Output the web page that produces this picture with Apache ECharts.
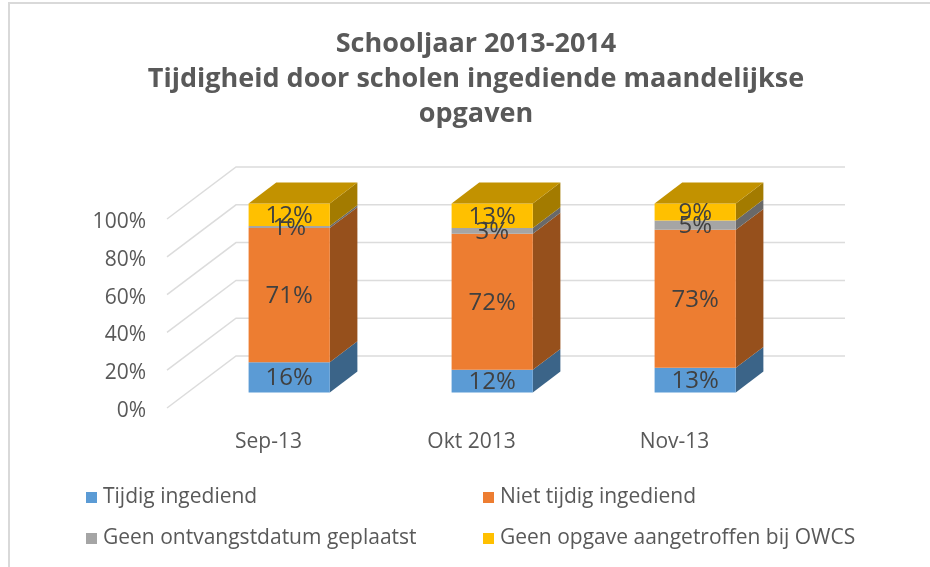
<!DOCTYPE html>
<html>
<head>
<meta charset="utf-8">
<style>html,body{margin:0;padding:0;background:#fff}#main{width:930px;height:567px}</style>
<script src="https://cdn.jsdelivr.net/npm/echarts@6/dist/echarts.min.js"></script>
</head>
<body>
<div id="main"></div>
<script>
var categories = ['Sep-13', 'Okt 2013', 'Nov-13'];
var tijdig = [16, 12, 13];
var nietTijdig = [71, 72, 73];
var geenDatum = [1, 3, 5];
var geenOpgave = [12, 13, 9];
var ticks = [0, 20, 40, 60, 80, 100];

var names = ['Tijdig ingediend', 'Niet tijdig ingediend', 'Geen ontvangstdatum geplaatst', 'Geen opgave aangetroffen bij OWCS'];
var values = [tijdig, nietTijdig, geenDatum, geenOpgave];
var front = ['#5b9bd5', '#ed7d31', '#a5a5a5', '#ffc000'];
var side = ['#3b6488', '#96501c', '#696969', '#a37b00'];
var topColor = '#c29200';
var font = '"Open Sans"';

// fake 3d: depth z 0..1 shifts a point up and right
var depthX = 69, depthY = -52;
var zFront = 0.3, zBack = 0.7;

function shift(p, z) {
  return [p[0] + depthX * z, p[1] + depthY * z];
}

function renderWall(params, api) {
  var cs = params.coordSys;
  var y = api.coord([0, api.value(0)])[1];
  var a = [cs.x, y];
  var b = shift(a, 1);
  var c = [cs.x + cs.width + depthX, b[1]];
  return {
    type: 'polyline',
    shape: { points: [a, b, c] },
    style: { stroke: '#dcdcdc', lineWidth: 1.5, fill: null }
  };
}

function makeRender(idx) {
  return function (params, api) {
    var cat = api.value(0);
    var from = api.value(1);
    var to = api.value(2);
    var half = api.size([1, 0])[0] * 0.2;
    var lo = api.coord([cat, from]);
    var hi = api.coord([cat, to]);
    var bl = [lo[0] - half, lo[1]], br = [lo[0] + half, lo[1]];
    var tl = [lo[0] - half, hi[1]], tr = [lo[0] + half, hi[1]];
    var f = function (p) { return shift(p, zFront); };
    var g = function (p) { return shift(p, zBack); };
    var kids = [
      { type: 'polygon', shape: { points: [f(br), g(br), g(tr), f(tr)] }, style: { fill: side[idx] } },
      { type: 'polygon', shape: { points: [f(bl), f(br), f(tr), f(tl)] }, style: { fill: front[idx] } }
    ];
    if (idx === values.length - 1) {
      kids.push({ type: 'polygon', shape: { points: [f(tl), f(tr), g(tr), g(tl)] }, style: { fill: topColor } });
    }
    var mid = f([lo[0], (lo[1] + hi[1]) / 2]);
    kids.push({
      type: 'text',
      z2: 10,
      style: {
        x: mid[0], y: mid[1] + 1,
        text: (to - from) + '%',
        fill: '#404040',
        font: '24px ' + font,
        align: 'center',
        verticalAlign: 'middle'
      }
    });
    return { type: 'group', children: kids };
  };
}

var series = [{
  type: 'custom',
  renderItem: renderWall,
  data: ticks.map(function (t) { return [t]; }),
  encode: { y: 0 },
  clip: false,
  silent: true,
  z: 1
}];

values.forEach(function (vals, idx) {
  series.push({
    name: names[idx],
    type: 'custom',
    renderItem: makeRender(idx),
    itemStyle: { color: front[idx] },
    data: vals.map(function (v, i) {
      var base = 0;
      for (var k = 0; k < idx; k++) base += values[k][i];
      return [i, base, base + v];
    }),
    encode: { x: 0, y: [1, 2] },
    clip: false,
    z: 2
  });
});

function legendAt(left, items) {
  return {
    left: left,
    top: 478,
    orient: 'vertical',
    icon: 'rect',
    itemWidth: 11,
    itemHeight: 11,
    itemGap: 12,
    selectedMode: false,
    data: items,
    textStyle: { color: '#595959', fontFamily: font, fontSize: 21, padding: [0, 0, 0, 1], lineHeight: 29 }
  };
}

var chart = echarts.init(document.getElementById('main'));
chart.setOption({
  animation: false,
  backgroundColor: '#fff',
  title: {
    text: 'Schooljaar 2013-2014\nTijdigheid door scholen ingediende maandelijkse\nopgaven',
    left: 471,
    top: 22,
    textAlign: 'center',
    textStyle: { color: '#595959', fontFamily: font, fontSize: 27, fontWeight: 'bold', lineHeight: 35 }
  },
  legend: [legendAt(81, [names[0], names[2]]), legendAt(478, [names[1], names[3]])],
  grid: { left: 167, top: 219, width: 609, height: 189 },
  xAxis: {
    type: 'category',
    data: categories,
    axisLine: { show: false },
    axisTick: { show: false },
    axisLabel: { color: '#595959', fontFamily: font, fontSize: 21, margin: 24 }
  },
  yAxis: {
    type: 'value',
    min: 0,
    max: 100,
    interval: 20,
    axisLine: { show: false },
    axisTick: { show: false },
    splitLine: { show: false },
    axisLabel: { color: '#595959', fontFamily: font, fontSize: 21, margin: 21, verticalAlign: 'top', lineHeight: 6, formatter: '{value}%' }
  },
  graphic: [{
    type: 'polyline',
    silent: true,
    shape: { points: [[9, 567], [9, 3], [930, 3]] },
    style: { stroke: '#d9d9d9', lineWidth: 2, fill: null }
  }],
  series: series
});
</script>
</body>
</html>
